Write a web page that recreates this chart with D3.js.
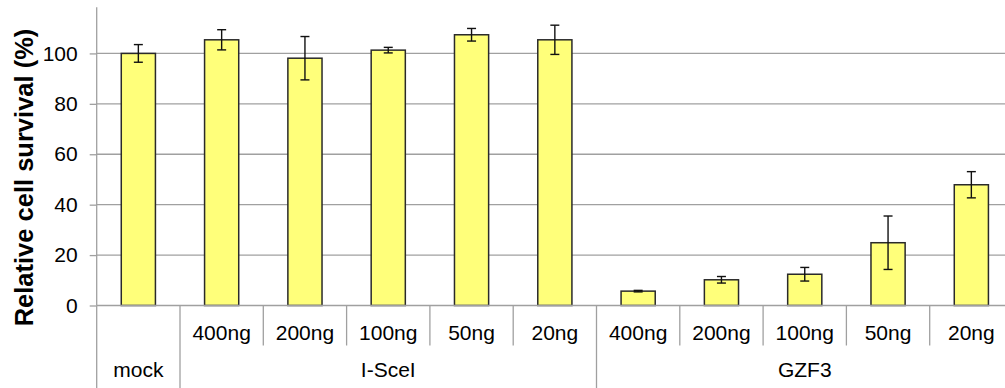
<!DOCTYPE html>
<html>
<head>
<meta charset="utf-8">
<script src="https://cdn.jsdelivr.net/npm/d3@7"></script>
<style>
  body { margin: 0; background: #fff; }
  svg { display: block; font-family: "Liberation Sans", Arial, sans-serif; }
</style>
</head>
<body>
<svg id="chart" width="1005" height="388"></svg>
<script>
// ---- data ----
const doses = ["mock", "400ng", "200ng", "100ng", "50ng", "20ng", "400ng", "200ng", "100ng", "50ng", "20ng"];
const groups = ["", "I-SceI", "I-SceI", "I-SceI", "I-SceI", "I-SceI", "GZF3", "GZF3", "GZF3", "GZF3", "GZF3"];
const survival = [100, 105.4, 98.1, 101.3, 107.4, 105.4, 5.7, 10.2, 12.4, 24.9, 47.9];
const errors = [3.5, 4.0, 8.6, 1.1, 2.5, 5.8, 0.3, 1.3, 2.7, 10.6, 5.2];
const yTicks = [0, 20, 40, 60, 80, 100];
const yTitle = "Relative cell survival (%)";

// ---- layout ----
const svg = d3.select("#chart");
const left = 96.7, right = 1013, top0 = 3, bottom = 305.5;
const fontSize = 21;

const idx = d3.range(doses.length);
const x = d3.scaleBand().domain(idx).range([left, right]).padding(0);
const y = d3.scaleLinear().domain([0, 120]).range([bottom, top0]);
const barW = x.step() * 0.41;

// gridlines
svg.append("g").selectAll("line").data(yTicks.filter(d => d > 0)).join("line")
  .attr("x1", left).attr("x2", right)
  .attr("y1", d => y(d)).attr("y2", d => y(d))
  .attr("stroke", "#a0a0a0").attr("stroke-width", 1.3);

// y axis
const yAxis = d3.axisLeft(y).tickValues(yTicks).tickSize(7).tickPadding(12).tickFormat(d3.format("d"));
const gy = svg.append("g").attr("transform", `translate(${left},0)`).call(yAxis);
gy.select(".domain").attr("d", `M0,${y(118.3)}V${bottom}`).attr("stroke", "#a0a0a0").attr("stroke-width", 1.3);
gy.selectAll(".tick line").attr("stroke", "#a0a0a0").attr("stroke-width", 1.3);
gy.selectAll(".tick text").attr("font-size", fontSize).attr("fill", "#000")
  .attr("font-family", "Liberation Sans, Arial, sans-serif");

// bars
svg.append("g").selectAll("rect").data(idx).join("rect")
  .attr("x", i => x(i) + x.bandwidth() / 2 - barW / 2)
  .attr("width", barW)
  .attr("y", i => y(survival[i]))
  .attr("height", i => y(0) - y(survival[i]))
  .attr("fill", "#ffff7a")
  .attr("stroke", "#2a2a2a").attr("stroke-width", 1.5);

// error bars
const eg = svg.append("g").attr("stroke", "#111").attr("stroke-width", 1.4);
idx.forEach(i => {
  const cx = x(i) + x.bandwidth() / 2;
  const hi = y(survival[i] + errors[i]), lo = y(survival[i] - errors[i]);
  eg.append("line").attr("x1", cx).attr("x2", cx).attr("y1", hi).attr("y2", lo);
  eg.append("line").attr("x1", cx - 4.5).attr("x2", cx + 4.5).attr("y1", hi).attr("y2", hi);
  eg.append("line").attr("x1", cx - 4.5).attr("x2", cx + 4.5).attr("y1", lo).attr("y2", lo);
});

// x axis baseline
svg.append("line").attr("x1", left).attr("x2", right).attr("y1", y(0)).attr("y2", y(0))
  .attr("stroke", "#a0a0a0").attr("stroke-width", 1.3);

// x axis category labels (two levels)
const row1 = bottom + 34, row2 = bottom + 71, row1Bottom = bottom + 40, fullBottom = 388;
const lab = svg.append("g").attr("font-size", fontSize).attr("text-anchor", "middle").attr("fill", "#000");
idx.forEach(i => {
  const cx = x(i) + x.bandwidth() / 2;
  if (groups[i] === "") {
    lab.append("text").attr("x", cx).attr("y", row2).text(doses[i]);
  } else {
    lab.append("text").attr("x", cx).attr("y", row1).text(doses[i]);
  }
});
// group labels
const groupNames = Array.from(new Set(groups.filter(g => g !== "")));
groupNames.forEach(g => {
  const members = idx.filter(i => groups[i] === g);
  const x0 = x(members[0]), x1 = x(members[members.length - 1]) + x.bandwidth();
  lab.append("text").attr("x", (x0 + x1) / 2).attr("y", row2).text(g);
});

// separators
const sep = svg.append("g").attr("stroke", "#a0a0a0").attr("stroke-width", 1.3);
idx.forEach(i => {
  const xb = x(i);
  const full = i === 0 || groups[i] !== groups[i - 1];
  sep.append("line").attr("x1", xb).attr("x2", xb).attr("y1", bottom).attr("y2", full ? fullBottom : row1Bottom);
});
sep.append("line").attr("x1", right).attr("x2", right).attr("y1", bottom).attr("y2", fullBottom);

// y title
svg.append("text")
  .attr("transform", `translate(33,177.5) rotate(-90)`)
  .attr("text-anchor", "middle")
  .attr("font-size", 25.5).attr("font-weight", "bold").attr("fill", "#000")
  .text(yTitle);
</script>
</body>
</html>
